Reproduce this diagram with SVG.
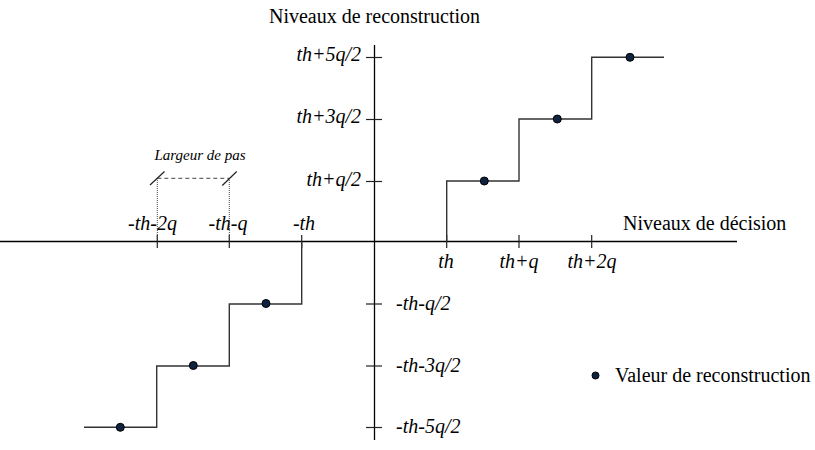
<svg xmlns="http://www.w3.org/2000/svg" width="815" height="450" viewBox="0 0 815 450">
<style>
.axis{stroke:#000;stroke-width:1.3;fill:none}
.tick{stroke:#222;stroke-width:1.2;fill:none}
.stair{stroke:#333;stroke-width:1.4;fill:none}
.dot{fill:#0e2340;stroke:#000;stroke-width:1}
.lbl{font-family:"Liberation Serif","Times New Roman",serif;font-size:20px;fill:#000}
.it{font-family:"Liberation Serif","Times New Roman",serif;font-size:20px;font-style:italic;fill:#000}
.guide{stroke:#444;stroke-width:1;fill:none}
</style>
<rect width="815" height="450" fill="#fff"/>
<g id="axes">
<line class="axis" x1="0" y1="241.5" x2="737" y2="241.5"/>
<line class="axis" x1="374.5" y1="45" x2="374.5" y2="440"/>
<text class="lbl" x="374.5" y="23" text-anchor="middle">Niveaux de reconstruction</text>
<text class="lbl" x="623" y="230">Niveaux de décision</text>
</g>
<g id="y-ticks">
<line class="tick" x1="366" y1="57.5" x2="382" y2="57.5"/>
<line class="tick" x1="366" y1="119.5" x2="382" y2="119.5"/>
<line class="tick" x1="366" y1="181.5" x2="382" y2="181.5"/>
<line class="tick" x1="366" y1="304" x2="382" y2="304"/>
<line class="tick" x1="366" y1="366" x2="382" y2="366"/>
<line class="tick" x1="366" y1="427.5" x2="382" y2="427.5"/>
<text class="it" x="361" y="61" text-anchor="end">th+5q/2</text>
<text class="it" x="361" y="123" text-anchor="end">th+3q/2</text>
<text class="it" x="361" y="186" text-anchor="end">th+q/2</text>
<text class="it" x="396" y="310">-th-q/2</text>
<text class="it" x="396" y="372">-th-3q/2</text>
<text class="it" x="396" y="433">-th-5q/2</text>
</g>
<g id="x-ticks">
<line class="tick" x1="446.7" y1="235" x2="446.7" y2="248"/>
<line class="tick" x1="519" y1="235" x2="519" y2="248"/>
<line class="tick" x1="591.7" y1="235" x2="591.7" y2="248"/>
<line class="tick" x1="301.7" y1="235" x2="301.7" y2="248"/>
<line class="tick" x1="229.3" y1="235" x2="229.3" y2="248"/>
<line class="tick" x1="157.3" y1="235" x2="157.3" y2="248"/>
<text class="it" x="446" y="268" text-anchor="middle">th</text>
<text class="it" x="519" y="268" text-anchor="middle">th+q</text>
<text class="it" x="592" y="268" text-anchor="middle">th+2q</text>
<text class="it" x="304" y="230" text-anchor="middle">-th</text>
<text class="it" x="228" y="230" text-anchor="middle">-th-q</text>
<text class="it" x="152.5" y="230" text-anchor="middle">-th-2q</text>
</g>
<g id="step-width">
<line class="guide" x1="157.3" y1="178" x2="157.3" y2="241" stroke-dasharray="1,1"/>
<line class="guide" x1="229.3" y1="178" x2="229.3" y2="241" stroke-dasharray="1,1"/>
<line class="guide" x1="157.3" y1="178.3" x2="229.3" y2="178.3" stroke-dasharray="4,3"/>
<line class="tick" x1="150" y1="185" x2="164.5" y2="171.5"/>
<line class="tick" x1="222.3" y1="185.5" x2="236.7" y2="171.5"/>
<text class="it" x="200" y="160" text-anchor="middle" style="font-size:15px">Largeur de pas</text>
</g>
<g id="staircase-positive">
<polyline class="stair" points="446.7,241.5 446.7,181 519,181 519,119 591.7,119 591.7,57.3 664,57.3"/>
<circle class="dot" cx="484.3" cy="181" r="4"/>
<circle class="dot" cx="557.3" cy="119" r="4"/>
<circle class="dot" cx="630" cy="57.3" r="4"/>
</g>
<g id="staircase-negative">
<polyline class="stair" points="301.7,241.5 301.7,304 229.3,304 229.3,366 156.7,366 156.7,427.3 84,427.3"/>
<circle class="dot" cx="266" cy="303.5" r="4"/>
<circle class="dot" cx="193.3" cy="365.5" r="4"/>
<circle class="dot" cx="120.3" cy="427.3" r="4"/>
</g>
<g id="legend">
<circle class="dot" cx="595.5" cy="375.5" r="3.5"/>
<text class="lbl" x="615" y="382">Valeur de reconstruction</text>
</g>
</svg>
